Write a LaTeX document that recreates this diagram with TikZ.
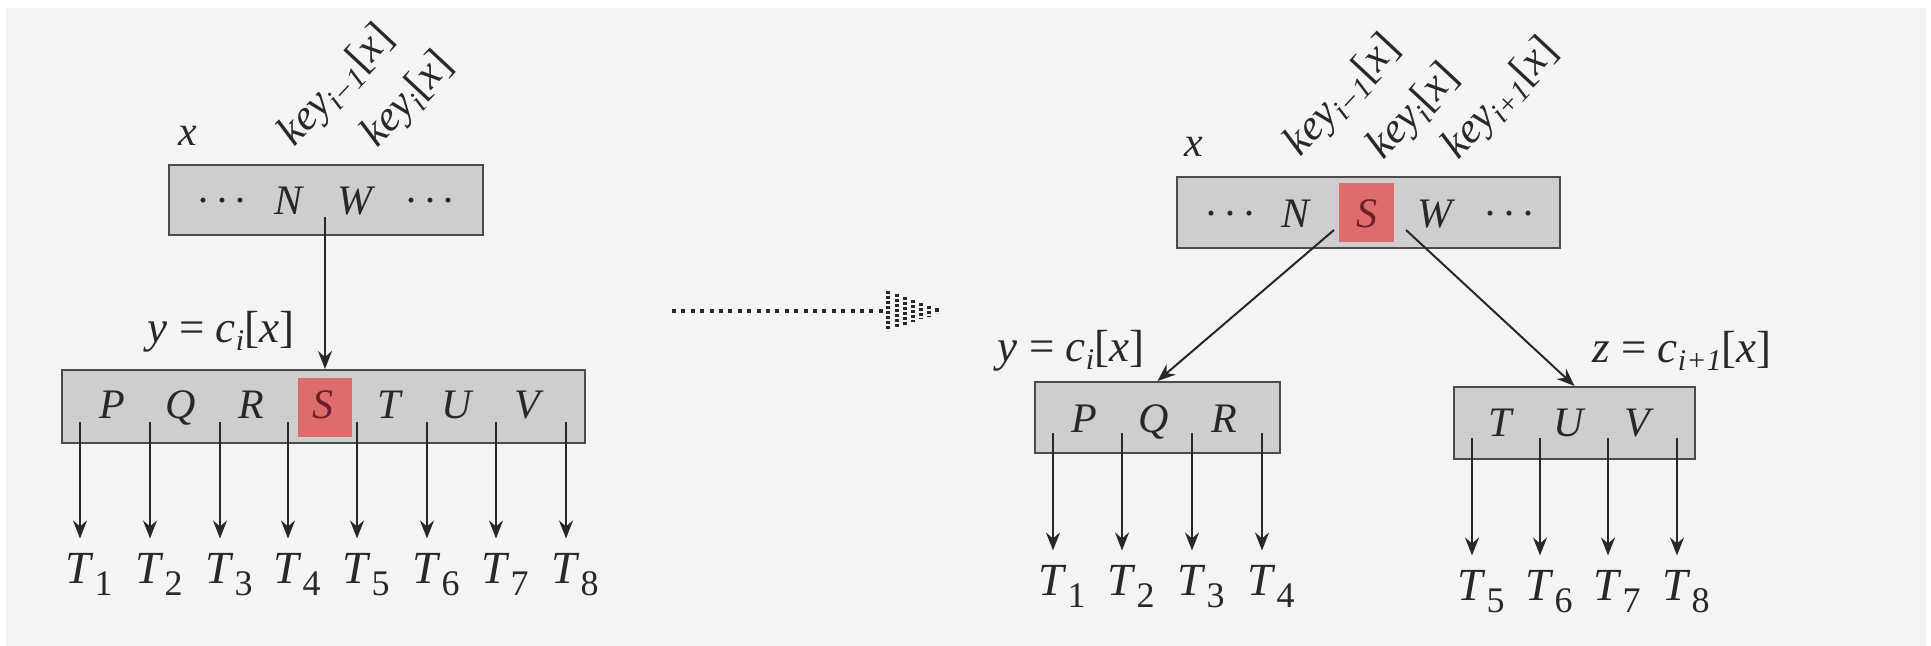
\documentclass[tikz,border=0pt]{standalone}
\usepackage{fontspec}
\setmainfont{Liberation Serif}
\usetikzlibrary{arrows.meta}
\definecolor{bg}{RGB}{244,244,244}
\definecolor{boxfill}{RGB}{206,206,206}
\definecolor{boxline}{RGB}{75,75,75}
\definecolor{ink}{RGB}{40,40,40}
\definecolor{hl}{RGB}{222,108,108}
\definecolor{hltext}{RGB}{110,30,40}
\newcommand\isub[1]{\raisebox{-4pt}{\fontsize{15}{15}\selectfont\itshape #1}}
\newcommand\tsub[1]{\raisebox{-6pt}{\fontsize{18}{18}\selectfont #1}}
\newcommand\Tl[1]{\textit{T}\kern0.5pt\tsub{#1}}
\newcommand\keyl[1]{\textit{key}\isub{#1}[\textit{x}]}
\newcommand\cdotsx{·\kern2.5pt·\kern2.5pt·}
\tikzset{
  boxnode/.style={draw=boxline, fill=boxfill, line width=1pt, inner sep=0pt},
  hlnode/.style={fill=hl, inner sep=0pt, minimum width=27pt, minimum height=29.5pt},
  lbl/.style={text=ink, font=\fontsize{21}{25}\selectfont, inner sep=0pt, anchor=base},
  eqlbl/.style={text=ink, font=\fontsize{22.5}{26}\selectfont, inner sep=0pt, anchor=base},
  tlbl/.style={text=ink, font=\fontsize{23}{27}\selectfont, inner sep=0pt, anchor=base},
  keylbl/.style={text=ink, font=\fontsize{21.5}{25}\selectfont, inner sep=0pt, rotate=47, anchor=base west},
  conn/.style={draw=ink, line width=1pt, -{Stealth[length=9pt,width=7pt,inset=3pt]}},
}
\begin{document}
\begin{tikzpicture}[x=0.5pt,y=-0.5pt]
\useasboundingbox (0,0) rectangle (1931,646);
\fill[white] (0,0) rectangle (1931,646);
\fill[bg] (6,8) rectangle (1926,646);

% ---------------- left panel ----------------
\node[boxnode, minimum width=157pt, minimum height=35pt] (ltop) at (326,200) {};
\node[lbl] (ltd1) at (222,215) {\cdotsx};
\node[lbl] (ltN) at (289,215) {\textit{N}};
\node[lbl] (ltW) at (357,215) {\textit{W}};
\node[lbl] (ltd2) at (430,215) {\cdotsx};
\node[lbl] (lx) at (188,146) {\textit{x}};
\node[keylbl] (lk1) at (294,148) {\keyl{i−1}};
\node[keylbl] (lk2) at (377,149) {\keyl{i}};

\node[boxnode, minimum width=261.5pt, minimum height=36.5pt] (lbot) at (323.5,406.5) {};
\node[hlnode] (lhl) at (325,407.5) {};
\foreach \n/\xx in {P/112,Q/181,R/251,T/390,U/458,V/529}
  \node[lbl] (lb\n) at (\xx,418) {\textit{\n}};
\node[lbl, text=hltext] (lbS) at (323,418) {\textit{S}};
\node[eqlbl] (lyl) at (221,343) {\textit{y} = \textit{c}\isub{i}[\textit{x}]};

\coordinate (lsrc) at (325,217);
\draw[conn] (lsrc) -- (lsrc |- lbot.north);

\foreach \i/\xx in {1/80,2/150,3/220,4/288,5/357,6/427,7/496,8/566}{
  \coordinate (lc\i) at (\xx,422);
  \node[tlbl] (lt\i) at (\xx+9,583) {\Tl{\i}};
  \draw[conn, shorten >=7pt] (lc\i) -- (lc\i |- lt\i.north);
}

% ---------------- transition arrow ----------------
\coordinate (da) at (672,311);
\coordinate (db) at (886,311);
\draw[ink, line width=2.2pt, dash pattern=on 2pt off 2.7pt] (da) -- (db);
\foreach \xx in {0,9,17,25,33,41,49}{
  \draw[ink, line width=2.2pt, dash pattern=on 1.6pt off 0.9pt]
    ({888+\xx},{311-20*(56-\xx)/56}) -- ({888+\xx},{311+20*(56-\xx)/56});
}

% ---------------- right panel ----------------
\node[boxnode, minimum width=191.5pt, minimum height=35.5pt] (rtop) at (1368.5,212.5) {};
\node[hlnode, minimum width=27.5pt] (rhl) at (1366.5,212.5) {};
\node[lbl] (rtd1) at (1230,228) {\cdotsx};
\node[lbl] (rtN) at (1296,228) {\textit{N}};
\node[lbl, text=hltext] (rtS) at (1367,228) {\textit{S}};
\node[lbl] (rtW) at (1437,228) {\textit{W}};
\node[lbl] (rtd2) at (1509,228) {\cdotsx};
\node[lbl] (rx) at (1194,157) {\textit{x}};
\node[keylbl] (rk1) at (1300,158) {\keyl{i−1}};
\node[keylbl] (rk2) at (1383,161) {\keyl{i}};
\node[keylbl] (rk3) at (1458,161) {\keyl{i+1}};

\node[boxnode, minimum width=122.5pt, minimum height=35.5pt] (rbl) at (1157.5,417.5) {};
\foreach \n/\xx in {P/1084,Q/1154,R/1224}
  \node[lbl] (rbl\n) at (\xx,432) {\textit{\n}};
\node[boxnode, minimum width=120.5pt, minimum height=36pt] (rbr) at (1574.5,423) {};
\foreach \n/\xx in {T/1501,U/1570,V/1639}
  \node[lbl] (rbr\n) at (\xx,437) {\textit{\n}};

\node[eqlbl] (ryl) at (1071,362) {\textit{y} = \textit{c}\isub{i}[\textit{x}]};
\node[eqlbl] (rzl) at (1682,363) {\textit{z} = \textit{c}\isub{i+1}[\textit{x}]};

\coordinate (rs1) at (1334,230);
\coordinate (rs2) at (1406,230);
\draw[conn] (rs1) -- (rbl.north);
\draw[conn] (rs2) -- (rbr.north);

\foreach \i/\xx in {1/1053,2/1122,3/1192,4/1262}{
  \coordinate (rc\i) at (\xx,433);
  \node[tlbl] (rt\i) at (\xx+9,595) {\Tl{\i}};
  \draw[conn, shorten >=7pt] (rc\i) -- (rc\i |- rt\i.north);
}
\foreach \i/\xx in {5/1472,6/1540,7/1608,8/1677}{
  \coordinate (rc\i) at (\xx,438);
  \node[tlbl] (rt\i) at (\xx+9,600) {\Tl{\i}};
  \draw[conn, shorten >=7pt] (rc\i) -- (rc\i |- rt\i.north);
}
\end{tikzpicture}
\end{document}
